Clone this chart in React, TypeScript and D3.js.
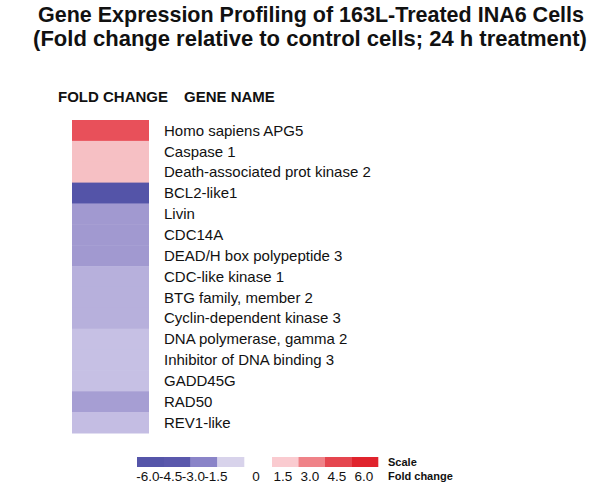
import React from "react";
import * as d3 from "d3";

const W = 601;
const H = 486;

const titleLines = [
  "Gene Expression Profiling of 163L-Treated INA6 Cells",
  "(Fold change relative to control cells; 24 h treatment)",
];

const genes = [
  "Homo sapiens APG5",
  "Caspase 1",
  "Death-associated prot kinase 2",
  "BCL2-like1",
  "Livin",
  "CDC14A",
  "DEAD/H box polypeptide 3",
  "CDC-like kinase 1",
  "BTG family, member 2",
  "Cyclin-dependent kinase 3",
  "DNA polymerase, gamma 2",
  "Inhibitor of DNA binding 3",
  "GADD45G",
  "RAD50",
  "REV1-like",
];

const foldChange = [4.5, 1.8, 1.8, -6.0, -3.5, -3.5, -3.5, -2.6, -2.6, -2.6, -2.0, -2.0, -2.0, -3.3, -2.1];

const negLegendValues = [-6.0, -4.5, -3.0, -1.5];
const posLegendValues = [1.5, 3.0, 4.5, 6.0];
const negLegendColors = ["#5555a9", "#5a58ac", "#8a84c8", "#d8d3eb"];
const posLegendColors = ["#facbd0", "#ef8288", "#e5464f", "#e0232d"];

const colorScale = d3
  .scaleLinear<string>()
  .domain([-6, -3.5, -2, 0, 1.8, 4.5, 6])
  .range(["#5454a8", "#a199d0", "#c6c0e4", "#ffffff", "#f6c0c4", "#e8505a", "#e0202c"])
  .interpolate(d3.interpolateRgb);

const FONT = "'Liberation Sans', Arial, Helvetica, sans-serif";

export default function App() {
  const y = d3.scaleBand<string>().domain(genes).range([120, 433]).padding(0);
  const cellX0 = 72;
  const cellX1 = 149;
  const labelX = 164;

  const negBand = d3.scaleBand<string>().domain(negLegendValues.map(String)).range([137, 244]).padding(0);
  const posBand = d3.scaleBand<string>().domain(posLegendValues.map(String)).range([272, 378]).padding(0);
  const negLabelX = d3.scaleLinear().domain([-6, -1.5]).range([148, 216]);
  const posLabelX = d3.scaleLinear().domain([0, 6]).range([256, 364]);
  const legY0 = 457;
  const legY1 = 467;

  return (
    <svg
      width={W}
      height={H}
      style={{ position: "absolute", left: 0, top: 0, background: "#fff" }}
      fontFamily={FONT}
    >
      <rect x={0} y={0} width={W} height={H} fill="#fff" />
      <text x={311} y={22} textAnchor="middle" fontSize={21.5} fontWeight="bold" fill="#111">
        {titleLines[0]}
      </text>
      <text x={310} y={46} textAnchor="middle" fontSize={22} fontWeight="bold" fill="#111">
        {titleLines[1]}
      </text>

      <text x={58} y={102} fontSize={15} fontWeight="bold" fill="#111">
        FOLD CHANGE
      </text>
      <text x={184} y={102} fontSize={15} fontWeight="bold" fill="#111">
        GENE NAME
      </text>

      {genes.map((g, i) => (
        <g key={g}>
          <rect
            x={cellX0}
            y={y(g)!}
            width={cellX1 - cellX0}
            height={y.bandwidth() + 0.5}
            fill={colorScale(foldChange[i])}
          />
          <text
            x={labelX}
            y={y(g)! + y.bandwidth() / 2}
            dy="0.35em"
            fontSize={15}
            fill="#111"
          >
            {g}
          </text>
        </g>
      ))}

      {negLegendValues.map((v, i) => (
        <rect
          key={"n" + v}
          x={negBand(String(v))!}
          y={legY0}
          width={negBand.bandwidth() + 0.3}
          height={legY1 - legY0}
          fill={negLegendColors[i]}
        />
      ))}
      {posLegendValues.map((v, i) => (
        <rect
          key={"p" + v}
          x={posBand(String(v))!}
          y={legY0}
          width={posBand.bandwidth() + 0.3}
          height={legY1 - legY0}
          fill={posLegendColors[i]}
        />
      ))}
      {negLegendValues.map((v) => (
        <text key={"nl" + v} x={negLabelX(v)} y={481} textAnchor="middle" fontSize={13.5} fill="#111">
          {v.toFixed(1)}
        </text>
      ))}
      <text x={posLabelX(0)} y={481} textAnchor="middle" fontSize={13.5} fill="#111">
        0
      </text>
      {posLegendValues.map((v) => (
        <text key={"pl" + v} x={posLabelX(v)} y={481} textAnchor="middle" fontSize={13.5} fill="#111">
          {v.toFixed(1)}
        </text>
      ))}
      <text x={388} y={466} fontSize={11} fontWeight="bold" fill="#111">
        Scale
      </text>
      <text x={388} y={480} fontSize={11} fontWeight="bold" fill="#111">
        Fold change
      </text>
    </svg>
  );
}
